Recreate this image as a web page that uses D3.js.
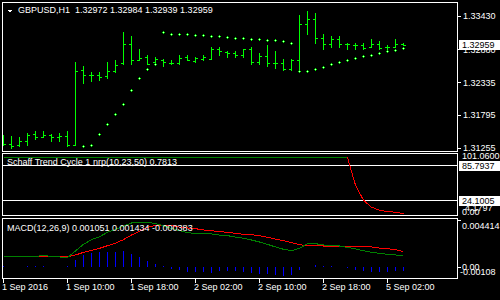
<!doctype html>
<html lang="en">
  <head>
    <title>GBPUSD,H1</title>
    <style>
      * {
        margin: 0;
        border: 0;
        padding: 0;
      }
      body {
        background-color: #000;
      }
      svg {
        display: block;
      }
      text {
        font-family: 'Liberation Sans', Arial, sans-serif;
        font-size: 9px;
        fill: #fff;
        white-space: pre;
      }
      .frame {
        fill: none;
        stroke: #fff;
        stroke-width: 1px;
        shape-rendering: crispEdges;
      }
      path, line {
        shape-rendering: crispEdges;
      }
    </style>
  </head>
  <body>
    <div id="chart"></div>

<script src="https://d3js.org/d3.v7.min.js"></script>
<script>

  // GBPUSD H1 bars, oldest first (1 Sep 02:00 .. 5 Sep 04:00)
  var open  = [1.31354, 1.31316, 1.31299, 1.31365, 1.31481, 1.31436, 1.31464, 1.31436, 1.31448, 1.31299,
               1.32535, 1.32453, 1.32453, 1.32436, 1.32519, 1.32656, 1.32969, 1.32705, 1.32754, 1.32672,
               1.32705, 1.32656, 1.32656, 1.32754, 1.32689, 1.32721, 1.32721, 1.32886, 1.32837, 1.32820,
               1.32787, 1.32886, 1.32672, 1.32771, 1.32656, 1.32656, 1.32557, 1.32705, 1.33298, 1.33381,
               1.33068, 1.32969, 1.33051, 1.32969, 1.32952, 1.32952, 1.32919, 1.32969, 1.32919, 1.32919,
               1.32972];
  var high  = [1.31453, 1.31441, 1.31436, 1.31502, 1.31519, 1.31535, 1.31470, 1.31486, 1.31535, 1.32656,
               1.32590, 1.32507, 1.32507, 1.32672, 1.32689, 1.33166, 1.33100, 1.32870, 1.32787, 1.32754,
               1.32721, 1.32705, 1.32771, 1.32771, 1.32738, 1.32787, 1.32903, 1.32919, 1.32853, 1.32837,
               1.32886, 1.32919, 1.32820, 1.32936, 1.32837, 1.32721, 1.32721, 1.33446, 1.33512, 1.33479,
               1.33133, 1.33100, 1.33100, 1.32985, 1.32969, 1.32969, 1.33051, 1.33002, 1.32952, 1.33051,
               1.32984];
  var low   = [1.31288, 1.31255, 1.31272, 1.31304, 1.31387, 1.31420, 1.31370, 1.31354, 1.31272, 1.31288,
               1.32310, 1.32343, 1.32375, 1.32392, 1.32491, 1.32639, 1.32639, 1.32689, 1.32623, 1.32623,
               1.32590, 1.32623, 1.32639, 1.32689, 1.32656, 1.32689, 1.32721, 1.32771, 1.32754, 1.32754,
               1.32738, 1.32639, 1.32623, 1.32590, 1.32557, 1.32524, 1.32524, 1.32507, 1.33117, 1.32969,
               1.32886, 1.32903, 1.32919, 1.32886, 1.32886, 1.32886, 1.32903, 1.32870, 1.32870, 1.32903,
               1.32939];
  var close = [1.31316, 1.31288, 1.31365, 1.31464, 1.31436, 1.31469, 1.31436, 1.31448, 1.31299, 1.32519,
               1.32453, 1.32453, 1.32425, 1.32524, 1.32618, 1.32969, 1.32705, 1.32738, 1.32639, 1.32721,
               1.32672, 1.32656, 1.32738, 1.32705, 1.32738, 1.32754, 1.32886, 1.32853, 1.32820, 1.32787,
               1.32886, 1.32672, 1.32771, 1.32656, 1.32656, 1.32557, 1.32705, 1.33298, 1.33381, 1.33068,
               1.32969, 1.33051, 1.32969, 1.32969, 1.32952, 1.32903, 1.32969, 1.32903, 1.32919, 1.32969,
               1.32959];

  // Parabolic SAR (off-screen for the first bars)
  var sar = [null, null, null, null, null, null, null, null, null, null,
             1.31283, 1.31299, 1.31481, 1.31646, 1.31810, 1.31980, 1.32206, 1.32403, 1.32557, 1.32639,
             1.33166, 1.33138, 1.33138, 1.33128, 1.33112, 1.33112, 1.33096, 1.33096, 1.33079, 1.33063,
             1.33063, 1.33046, 1.33046, 1.33030, 1.33030, 1.33013, 1.32980, 1.32519, 1.32519, 1.32552,
             1.32585, 1.32634, 1.32667, 1.32700, 1.32733, 1.32766, 1.32782, 1.32815, 1.32848, 1.32865,
             1.32898];

  // Schaff Trend Cycle
  var stc = [100, 100, 100, 100, 100, 100, 100, 100, 100, 100,
             100, 100, 100, 100, 100, 100, 100, 100, 100, 100,
             100, 100, 100, 100, 100, 100, 100, 100, 100, 100,
             100, 100, 100, 100, 100, 100, 100, 100, 100, 100,
             100, 100, 100, 100, 51.1, 24.6, 12.3, 7.0, 4.7, 3.5,
             0.7813];
  var stcLevels = [85.7937, 24.1005];

  // MACD(12,26,9)
  var macd   = [0.00097, 0.00097, 0.00097, 0.00094, 0.00094, 0.00107, 0.00094, 0.00091, 0.00085, 0.00148,
                0.00211, 0.00255, 0.00283, 0.00325, 0.00353, 0.00384, 0.00413, 0.00419, 0.00419, 0.00407,
                0.00388, 0.00362, 0.00340, 0.00321, 0.00315, 0.00315, 0.00309, 0.00299, 0.00293, 0.00280,
                0.00268, 0.00252, 0.00233, 0.00211, 0.00186, 0.00164, 0.00151, 0.00173, 0.00217, 0.00217,
                0.00205, 0.00201, 0.00195, 0.00182, 0.00167, 0.00151, 0.00135, 0.00126, 0.00116, 0.00110,
                0.001051];
  var signal = [0.00094, 0.00094, 0.00094, 0.00094, 0.00094, 0.00094, 0.00094, 0.00094, 0.00094, 0.00110,
                0.00135, 0.00154, 0.00173, 0.00198, 0.00223, 0.00255, 0.00299, 0.00334, 0.00372, 0.00391,
                0.00394, 0.00388, 0.00375, 0.00366, 0.00359, 0.00347, 0.00340, 0.00331, 0.00325, 0.00315,
                0.00306, 0.00302, 0.00293, 0.00277, 0.00261, 0.00246, 0.00227, 0.00208, 0.00198, 0.00198,
                0.00195, 0.00195, 0.00195, 0.00195, 0.00195, 0.00192, 0.00186, 0.00176, 0.00170, 0.00160,
                0.001434];
  var hist   = [0.00002, 0, 0, 0.00002, 0.00002, 0.00002, 0, 0, 0.00002, 0.00057,
                0.00101, 0.00120, 0.00133, 0.00133, 0.00133, 0.00142, 0.00114, 0.00088, 0.00050, 0.00019,
                0.00003, -0.00019, -0.00028, -0.00045, -0.00045, -0.00045, -0.00054, -0.00035, -0.00035, -0.00035,
                -0.00045, -0.00054, -0.00063, -0.00063, -0.00073, -0.00082, -0.00073, -0.00026, -0.00003, 0.00010,
                0.00002, 0.00002, 0, -0.00013, -0.00026, -0.00035, -0.00045, -0.00045, -0.00045, -0.00035,
                -0.000383];

  var priceTicks = [1.33430, 1.32880, 1.32335, 1.31795, 1.31255];
  var timeLabels = ["1 Sep 2016", "1 Sep 10:00", "1 Sep 18:00", "2 Sep 02:00", "2 Sep 10:00", "2 Sep 18:00", "5 Sep 02:00"];
  var timeBars   = [0, 8, 16, 24, 32, 40, 48];

  var width  = 500;
  var height = 300;
  var n = close.length;
  var fmt5 = d3.format(".5f");

  var x     = d3.scaleLinear().domain([0, n - 1]).range([3.5, 403.5]);
  var yMain = d3.scaleLinear().domain([1.31255, 1.33430]).range([148, 16]);
  var yStc  = d3.scaleLinear().domain([24.1005, 85.7937]).range([200.5, 165.5]);
  var yMacd = d3.scaleLinear().domain([-0.00108, 0.004414]).range([278, 220]);

  var svg = d3.select("#chart").append("svg").attr("width", width).attr("height", height);
  svg.append("rect").attr("width", width).attr("height", height).attr("fill", "#000");

  var defs = svg.append("defs");
  function clip(id, y0, y1) {
    defs.append("clipPath").attr("id", id).append("rect")
      .attr("x", 3).attr("y", y0).attr("width", 454).attr("height", y1 - y0);
  }
  clip("c-main", 3, 151);
  clip("c-stc", 154, 215);
  clip("c-macd", 219, 278);

  // --- main window ---
  var gMain = svg.append("g").attr("clip-path", "url(#c-main)");
  var bars = gMain.selectAll("g.bar").data(d3.range(n)).enter().append("g");
  bars.append("line").attr("x1", i => x(i)).attr("x2", i => x(i))
    .attr("y1", i => yMain(high[i]) - 0.5).attr("y2", i => yMain(low[i]) + 0.5)
    .attr("stroke", "#00ff00");
  bars.append("line").attr("x1", i => x(i) - 2.5).attr("x2", i => x(i) - 0.5)
    .attr("y1", i => Math.round(yMain(open[i])) + 0.5).attr("y2", i => Math.round(yMain(open[i])) + 0.5)
    .attr("stroke", "#00ff00");
  bars.append("line").attr("x1", i => x(i) + 0.5).attr("x2", i => x(i) + 2.5)
    .attr("y1", i => Math.round(yMain(close[i])) + 0.5).attr("y2", i => Math.round(yMain(close[i])) + 0.5)
    .attr("stroke", "#00ff00");

  var dots = gMain.selectAll("g.sar").data(d3.range(n).filter(i => sar[i] != null)).enter().append("g")
    .attr("transform", i => "translate(" + (x(i) - 0.5) + "," + Math.round(yMain(sar[i])) + ")");
  dots.append("rect").attr("x", -1).attr("y", 0).attr("width", 3).attr("height", 1).attr("fill", "#00ff00");
  dots.append("rect").attr("x", 0).attr("y", -1).attr("width", 1).attr("height", 3).attr("fill", "#00ff00");
  dots.append("rect").attr("x", 0).attr("y", 0).attr("width", 1).attr("height", 1).attr("fill", "#c8ffc8");

  // --- Schaff Trend Cycle window ---
  var gStc = svg.append("g").attr("clip-path", "url(#c-stc)");
  gStc.selectAll("line.level").data(stcLevels).enter().append("line")
    .attr("x1", 2).attr("x2", 457).attr("y1", d => yStc(d)).attr("y2", d => yStc(d))
    .attr("stroke", "#fff");
  var stcLine = d3.line().x(i => x(i)).y(i => yStc(stc[i]));
  var turn = 43;
  gStc.append("path").attr("d", stcLine(d3.range(0, turn + 1)))
    .attr("fill", "none").attr("stroke", "#008000");
  gStc.append("path").attr("d", stcLine(d3.range(turn, n)))
    .attr("fill", "none").attr("stroke", "#ff0000");

  // --- MACD window ---
  var gMacd = svg.append("g").attr("clip-path", "url(#c-macd)");
  gMacd.selectAll("line.hist").data(d3.range(n).filter(i => hist[i] != 0)).enter().append("line")
    .attr("x1", i => x(i)).attr("x2", i => x(i))
    .attr("y1", yMacd(0)).attr("y2", i => yMacd(hist[i]) + (hist[i] > 0 ? -0.5 : 0.5))
    .attr("stroke", "#0000ff");
  var macdLine = d3.line().x(i => x(i)).y(i => yMacd(macd[i]));
  var sigLine = d3.line().x(i => x(i)).y(i => yMacd(signal[i]));
  gMacd.append("path").attr("d", sigLine(d3.range(n))).attr("fill", "none").attr("stroke", "#ff0000");
  gMacd.append("path").attr("d", macdLine(d3.range(n))).attr("fill", "none").attr("stroke", "#008000");

  // --- frames ---
  svg.append("rect").attr("class", "frame").attr("x", 2.5).attr("y", 2.5).attr("width", 455).attr("height", 149);
  svg.append("rect").attr("class", "frame").attr("x", 2.5).attr("y", 153.5).attr("width", 455).attr("height", 62);
  svg.append("rect").attr("class", "frame").attr("x", 2.5).attr("y", 218.5).attr("width", 455).attr("height", 60);

  // --- titles ---
  svg.append("path").attr("d", "M7,9.5L13,9.5L10,12.5Z").attr("fill", "#fff");
  var last = n - 1;
  svg.append("text").attr("x", 18).attr("y", 10).attr("dy", "0.35em")
    .text("GBPUSD,H1  " + [open[last], high[last], low[last], close[last]].map(fmt5).join(" "));
  svg.append("text").attr("x", 7).attr("y", 162).attr("dy", "0.35em")
    .text("Schaff Trend Cycle 1 nrp(10,23,50) " + stc[last]);
  svg.append("text").attr("x", 7).attr("y", 228).attr("dy", "0.35em")
    .text("MACD(12,26,9) " + macd[last].toFixed(6) + " " + signal[last].toFixed(6) + " " + hist[last].toFixed(6));

  // --- price axis ---
  var axis = svg.append("g");
  axis.selectAll("line.pt").data(priceTicks).enter().append("line")
    .attr("x1", 457).attr("x2", 461)
    .attr("y1", d => Math.round(yMain(d)) + 0.5).attr("y2", d => Math.round(yMain(d)) + 0.5)
    .attr("stroke", "#fff");
  axis.selectAll("text.pt").data(priceTicks).enter().append("text")
    .attr("x", 463).attr("y", d => yMain(d)).attr("dy", "0.35em").text(fmt5);

  function box(y, label) {
    axis.append("rect").attr("x", 459).attr("y", Math.round(y) - 5).attr("width", 41).attr("height", 10).attr("fill", "#fff");
    axis.append("text").attr("x", 462).attr("y", y).attr("dy", "0.35em").style("fill", "#000").text(label);
  }
  box(yMain(close[last]), fmt5(close[last]));

  // STC axis
  axis.append("text").attr("x", 462).attr("y", 156).attr("dy", "0.35em").text("101.0600");
  stcLevels.forEach(v => box(yStc(v), v.toFixed(4)));
  axis.append("text").attr("x", 465).attr("y", 208).attr("dy", "0.35em").text("4.1797");
  axis.append("text").attr("x", 462).attr("y", 212).attr("dy", "0.35em").text("0.00");

  // MACD axis
  var macdTicks = [0.004414, 0];
  axis.selectAll("line.mt").data(macdTicks).enter().append("line")
    .attr("x1", 457).attr("x2", 461)
    .attr("y1", d => Math.round(yMacd(d)) + 0.5).attr("y2", d => Math.round(yMacd(d)) + 0.5)
    .attr("stroke", "#fff");
  axis.append("text").attr("x", 462).attr("y", 226).attr("dy", "0.35em").text("0.004414");
  axis.append("text").attr("x", 462).attr("y", yMacd(0)).attr("dy", "0.35em").text("0.00");
  axis.append("text").attr("x", 460).attr("y", 272).attr("dy", "0.35em").text("-0.00108");

  // --- time axis ---
  axis.selectAll("line.tt").data(timeBars).enter().append("line")
    .attr("x1", i => x(i)).attr("x2", i => x(i)).attr("y1", 279).attr("y2", 283)
    .attr("stroke", "#fff");
  axis.selectAll("text.tt").data(timeBars).enter().append("text")
    .attr("x", i => x(i) - 1.5).attr("y", 287).attr("dy", "0.35em")
    .text((d, k) => timeLabels[k]);

</script>
  </body>
</html>
